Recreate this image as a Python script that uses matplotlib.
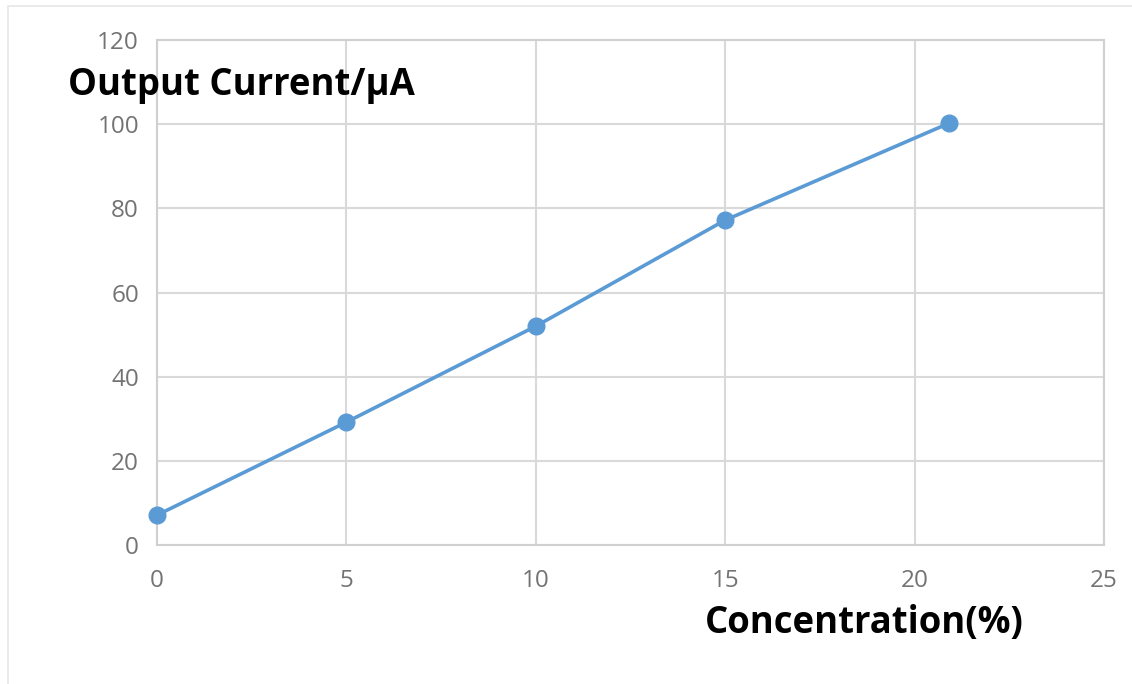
import matplotlib.pyplot as plt
from matplotlib.patches import Rectangle

# concentration (%) vs output current (uA)
concentration = [0, 5, 10, 15, 20.9]
current = [7.1, 29.2, 52.0, 77.2, 100.2]
x_ticks = [0, 5, 10, 15, 20, 25]
y_ticks = [0, 20, 40, 60, 80, 100, 120]

plt.rcParams['font.family'] = ['Open Sans', 'DejaVu Sans']

fig = plt.figure(figsize=(11.32, 6.84), dpi=100)
ax = fig.add_axes([0.1387, 0.2032, 0.8366, 0.7383])

ax.plot(concentration, current, color='#5b9bd5', linewidth=2.6,
        marker='o', markersize=12, zorder=3, clip_on=False)

ax.set_xlim(0, 25)
ax.set_ylim(0, 120)
ax.set_xticks(x_ticks)
ax.set_yticks(y_ticks)
ax.grid(True, color='#d9d9d9', linewidth=1.5)
ax.set_axisbelow(True)
for s in ax.spines.values():
    s.set_color('#d0d0d0')
    s.set_linewidth(1.5)
ax.tick_params(length=0, labelsize=17.5, labelcolor='#737373')
ax.tick_params(axis='x', pad=17)
ax.tick_params(axis='y', pad=13)

fig.text(0.060, 0.861, 'Output Current/μA', fontsize=26.3, fontweight='bold',
         va='baseline', ha='left', color='black')
fig.text(0.623, 0.075, 'Concentration(%)', fontsize=26.3, fontweight='bold',
         va='baseline', ha='left', color='black')

# faint frame around the picture
fig.patches.append(Rectangle((0.007, -0.2), 1.2, 1.191, transform=fig.transFigure,
                             fill=False, edgecolor='#e6e6e6', linewidth=1.2))

fig.savefig('out.png', dpi=100)
